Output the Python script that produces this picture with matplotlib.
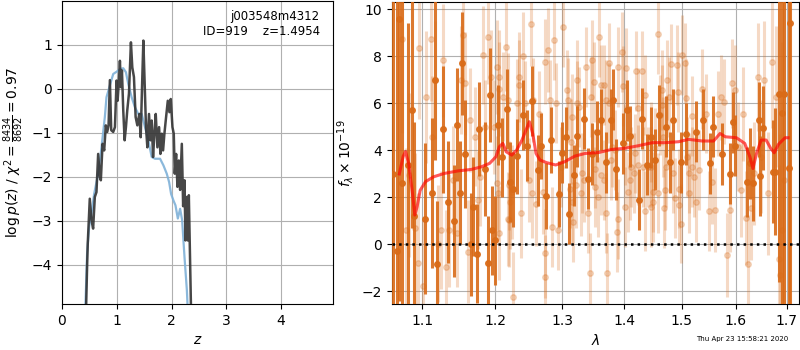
import matplotlib
matplotlib.use("Agg")
import matplotlib.pyplot as plt
from matplotlib.ticker import NullLocator

# --- p(z) panel ---
z_chi = [0.42, 0.458, 0.47, 0.507, 0.538, 0.568, 0.599, 0.629, 0.66, 0.69, 0.709,
         0.74, 0.77, 0.80, 0.825, 0.85, 0.874, 0.898, 0.935, 0.966, 0.996, 1.015,
         1.039, 1.057, 1.075, 1.094, 1.118, 1.143, 1.167, 1.191, 1.222, 1.258,
         1.283, 1.313, 1.344, 1.375, 1.411, 1.436, 1.466, 1.485, 1.509, 1.533,
         1.558, 1.588, 1.613, 1.637, 1.662, 1.686, 1.711, 1.741, 1.772, 1.796,
         1.821, 1.845, 1.869, 1.900, 1.931, 1.961, 1.985, 2.016, 2.04, 2.058,
         2.083, 2.107, 2.132, 2.156, 2.187, 2.211, 2.236, 2.254, 2.273, 2.297,
         2.315, 2.34, 2.37]
logp_chi = [-6.0, -4.05, -3.52, -2.5, -2.99, -3.18, -2.46, -2.35, -1.48, -2.0, -2.08,
            -1.25, -1.4, -0.83, -0.98, -0.83, 0.2, -0.94, -0.98, -0.87, 0.19, -0.27,
            0.19, 0.64, 0.04, 0.42, -0.49, -1.17, -0.87, -0.49, -0.11, 1.06,
            0.49, 0.27, -0.64, -0.83, -0.57, -1.1, 0.27, 1.1, 0.11, -0.87,
            -1.33, -0.57, -1.17, -0.72, -1.55, -1.02, -0.57, -1.33, -0.87, -1.48,
            -1.02, -1.4, -1.02, -0.64, -0.27, -0.53, -0.23, -0.87, -1.02, -1.93,
            -1.48, -2.23, -1.63, -2.3, -1.25, -2.67, -2.08, -3.45, -2.46, -3.45,
            -2.42, -4.05, -6.0]

z_pz = [0.40, 0.458, 0.495, 0.538, 0.587, 0.66, 0.721, 0.782, 0.812, 0.874, 0.935,
        0.996, 1.057, 1.118, 1.167, 1.21, 1.271, 1.332, 1.393, 1.454, 1.515,
        1.576, 1.637, 1.698, 1.790, 1.851, 1.912, 1.955, 1.991, 2.034, 2.071,
        2.114, 2.156, 2.193, 2.236, 2.279, 2.33]
logp_pz = [-6.0, -3.75, -3.14, -2.84, -2.39, -1.93, -1.33, -0.64, -0.19, 0.08, 0.34,
           0.39, 0.45, 0.47, 0.38, 0.11, -0.19, -0.42, -0.57, -0.57, -0.87,
           -1.17, -1.55, -1.59, -1.59, -1.74, -1.93, -2.12, -2.39, -2.54, -2.65,
           -2.95, -2.73, -2.99, -3.83, -4.58, -6.0]

# --- spectrum panel ---
dark_wave = [1.062, 1.067, 1.070, 1.073, 1.081, 1.086, 1.089, 1.104, 1.112, 1.116,
             1.119, 1.127, 1.134, 1.142, 1.147, 1.150, 1.153, 1.157, 1.166, 1.169,
             1.174, 1.177, 1.185, 1.189, 1.192, 1.196, 1.200, 1.204, 1.210, 1.217,
             1.222, 1.226, 1.232, 1.241, 1.246, 1.254, 1.263, 1.267, 1.275, 1.282,
             1.295, 1.300, 1.306, 1.311, 1.319, 1.324, 1.335, 1.341, 1.347, 1.356,
             1.362, 1.370, 1.378, 1.382, 1.386, 1.398, 1.404, 1.410, 1.425, 1.431,
             1.439, 1.446, 1.452, 1.460, 1.472, 1.479, 1.485, 1.498, 1.507, 1.526,
             1.539, 1.551, 1.556, 1.573, 1.589, 1.595, 1.599, 1.621, 1.628, 1.633,
             1.644, 1.646, 1.653, 1.672, 1.677, 1.685, 1.690, 1.694, 1.704, 1.707]
dark_flux = [3.0, -0.3, 9.6, 2.6, 3.4, 5.7, 1.2, 1.1, 2.2, 7.0,
             -0.85, 4.9, 1.8, 1.0, 5.1, 2.2, 7.7, 3.85, 0.0, 1.6,
             -0.4, 4.9, 3.2, -0.8, 6.35, 0.6, 0.18, 5.1, 3.7, 5.75,
             2.65, 2.35, 3.75, 5.5, 4.2, 6.1, 3.15, 4.2, 2.05, 4.45,
             2.15, 3.9, 4.55, 1.3, 2.95, 4.6, 5.35, 2.8, 3.85, 4.8,
             5.3, 3.5, 5.3, 6.15, 3.2, 4.3, 5.7, 4.6, 1.9, 5.35,
             3.4, 4.55, 3.6, 5.5, 5.0, 3.5, 5.3, 3.5, 4.7, 4.8,
             5.3, 3.45, 5.0, 3.85, 3.0, 5.2, 4.2, 2.65, 3.45, 2.6,
             5.3, 2.9, 4.95, 3.1, 3.1, 6.4, 5.6, 6.4, 3.25, 9.4]
dark_err = [20, 15, 12, 10, 6, 5, 4, 3.2, 3.2, 3.4,
            2.7, 2.7, 2.6, 2.4, 2.4, 2.2, 2.2, 2.3, 2.2, 2.1,
            2.1, 2.0, 2.0, 2.0, 2.0, 1.9, 1.9, 1.7, 1.7, 1.7,
            1.7, 1.6, 1.6, 1.5, 1.5, 1.5, 1.5, 1.4, 1.4, 1.4,
            1.4, 1.3, 1.3, 1.3, 1.3, 1.3, 1.3, 1.3, 1.3, 1.3,
            1.3, 1.3, 1.3, 1.3, 1.3, 1.3, 1.3, 1.3, 1.3, 1.3,
            1.3, 1.3, 1.3, 1.3, 1.3, 1.3, 1.3, 1.3, 1.3, 1.3,
            1.3, 1.3, 1.3, 1.3, 1.3, 1.3, 1.3, 1.5, 1.5, 1.6,
            1.6, 1.7, 1.8, 2.2, 2.7, 8, 10, 12, 20, 20]

light_wave = [1.074, 1.078, 1.083, 1.090, 1.094, 1.096, 1.101, 1.105, 1.111, 1.113,
              1.116, 1.120, 1.125, 1.128, 1.131, 1.136, 1.141, 1.147, 1.152, 1.155,
              1.157, 1.161, 1.165, 1.171, 1.175, 1.179, 1.182, 1.186, 1.189, 1.194,
              1.198, 1.202, 1.206, 1.211, 1.216, 1.220, 1.226, 1.231, 1.235, 1.240,
              1.244, 1.249, 1.253, 1.256, 1.260, 1.265, 1.270, 1.273, 1.274, 1.278,
              1.281, 1.285, 1.288, 1.291, 1.294, 1.298, 1.302, 1.308, 1.312, 1.317,
              1.323, 1.327, 1.331, 1.337, 1.341, 1.344, 1.347, 1.352, 1.358, 1.362,
              1.366, 1.370, 1.375, 1.379, 1.388, 1.390, 1.397, 1.401, 1.406, 1.412,
              1.416, 1.420, 1.424, 1.430, 1.436, 1.441, 1.445, 1.449, 1.452, 1.458,
              1.462, 1.465, 1.468, 1.472, 1.477, 1.481, 1.485, 1.488, 1.494, 1.499,
              1.500, 1.505, 1.509, 1.513, 1.518, 1.525, 1.531, 1.537, 1.544, 1.549,
              1.555, 1.561, 1.567, 1.572, 1.577, 1.584, 1.588, 1.592, 1.598, 1.604,
              1.610, 1.614, 1.619, 1.624, 1.630, 1.636, 1.643, 1.649, 1.655, 1.662,
              1.671, 1.678, 1.684, 1.686, 1.690, 1.695]
light_flux = [8.72, 0.6, 2.95, 0.68, -0.8, 8.34, -1.77, 6.26, 8.72, 4.58,
              6.99, 0.04, 0.61, 7.84, -0.95, 0.61, 2.74, 0.47, 6.99, 8.91,
              6.85, -0.31, 5.29, 4.58, 1.89, 2.88, 8.06, 5.0, 8.84, 7.13,
              5.0, 7.56, 6.6, 6.28, 8.41, 2.52, -2.23, 6.0, 7.13, 8.01,
              6.0, 2.74, 9.38, 6.14, 1.74, 5.57, 2.24, -1.38, 7.77, 8.27,
              6.14, 0.75, 8.7, 6.0, 0.61, 3.3, 9.23, 6.57, 2.38, 0.96,
              6.99, 5.86, 3.02, 7.56, 1.32, -1.23, 7.84, 2.45, 8.84, 6.78,
              2.74, 6.14, 7.7, 4.16, 0.54, 7.56, 8.2, 1.6, 2.24, 3.3,
              3.02, 7.38, 5.79, 7.39, 1.43, 3.3, 4.37, 2.24, 4.09, 8.94,
              5.5, 6.57, 1.53, 3.3, 6.28, 7.67, 3.02, 1.96, 1.67, 0.89,
              8.06, 7.7, 3.73, 3.02, 5.46, 1.82, 3.16, 6.6, 5.57, 1.43,
              2.67, 1.46, 5.57, 6.26, 6.07, -0.45, 1.46, 6.85, 6.57, 4.16,
              2.31, 5.57, 1.11, -0.85, 1.53, 3.02, 7.13, 3.73, 6.99, 2.17,
              7.77, 6.28, -0.6, -1.3, 0.61, 2.74]
light_err = [4.0, 3.5, 3.5, 3.2, 3.0, 3.0, 2.8, 2.8, 2.6, 2.6,
             2.5, 2.5, 2.5, 2.4, 2.4, 2.4, 2.3, 2.3, 2.3, 2.2,
             2.2, 2.2, 2.2, 2.1, 2.1, 2.1, 2.1, 2.0, 2.0, 2.0,
             2.0, 2.0, 2.0, 1.9, 1.9, 1.9, 1.9, 1.9, 1.9, 1.9,
             1.8, 1.8, 1.8, 1.8, 1.8, 1.8, 1.8, 1.8, 1.8, 1.8,
             1.7, 1.7, 1.7, 1.7, 1.7, 1.7, 1.7, 1.7, 1.7, 1.7,
             1.7, 1.7, 1.7, 1.7, 1.7, 1.7, 1.7, 1.7, 1.7, 1.7,
             1.7, 1.7, 1.7, 1.7, 1.7, 1.7, 1.7, 1.7, 1.7, 1.7,
             1.7, 1.7, 1.7, 1.7, 1.7, 1.7, 1.7, 1.7, 1.7, 1.7,
             1.7, 1.7, 1.7, 1.7, 1.7, 1.7, 1.7, 1.7, 1.7, 1.7,
             1.7, 1.7, 1.7, 1.7, 1.7, 1.7, 1.7, 1.7, 1.7, 1.7,
             1.8, 1.8, 1.8, 1.8, 1.8, 1.8, 1.8, 1.9, 1.9, 1.9,
             2.0, 2.0, 2.0, 2.1, 2.2, 2.2, 2.3, 2.4, 2.5, 2.6,
             2.8, 3.0, 4.0, 6.0, 8.0, 10.0]

light2_wave = [1.351, 1.366, 1.375, 1.352, 1.357, 1.361, 1.370, 1.372, 1.389, 1.398,
               1.403, 1.409, 1.435, 1.446, 1.464, 1.467, 1.473, 1.491, 1.493, 1.495,
               1.507, 1.512, 1.518, 1.521, 1.470, 1.458, 1.446, 1.432, 1.401, 1.418,
               1.423, 1.384, 1.378, 1.449, 1.205, 1.309, 1.316, 1.330, 1.235, 1.218,
               1.220, 1.237, 1.222, 1.225, 1.254, 1.203, 1.204, 1.218, 1.205, 1.274,
               1.316, 1.314, 1.324, 1.345, 1.335, 1.321]
light2_flux = [6.92, 6.78, 6.0, 3.23, 2.03, 2.95, 1.32, -1.23, 1.1, 6.75,
               7.49, 2.74, 6.35, 1.6, 5.93, 4.58, 6.99, 7.63, 6.49, 2.38,
               6.21, 2.17, 3.3, 2.88, 2.31, 2.17, 3.3, 3.3, 4.23, 3.87,
               3.37, 4.01, 3.59, 1.81, 7.13, 6.14, 1.81, 2.17, 6.78, 6.14,
               1.03, 1.32, 1.81, 2.24, 2.17, 2.6, 2.17, 1.1, 0.47, -0.38,
               5.43, 4.37, 6.0, 6.28, 2.74, 2.52]
light2_err = [1.7, 1.7, 1.7, 1.7, 1.7, 1.7, 1.7, 1.7, 1.7, 1.7,
              1.7, 1.7, 1.7, 1.7, 1.7, 1.7, 1.7, 1.7, 1.7, 1.7,
              1.7, 1.7, 1.7, 1.7, 1.7, 1.7, 1.7, 1.7, 1.7, 1.7,
              1.7, 1.7, 1.7, 1.7, 2.0, 1.8, 1.8, 1.8, 1.9, 2.0,
              2.0, 1.9, 2.0, 2.0, 1.9, 2.0, 2.0, 2.0, 2.0, 1.9,
              1.8, 1.8, 1.8, 1.7, 1.8, 1.8]

model_wave = [1.070, 1.075, 1.078, 1.082, 1.087, 1.090, 1.093, 1.097, 1.104, 1.115,
              1.129, 1.148, 1.166, 1.180, 1.192, 1.201, 1.206, 1.211, 1.216, 1.224,
              1.231, 1.239, 1.245, 1.250, 1.255, 1.260, 1.266, 1.276, 1.290, 1.304,
              1.320, 1.336, 1.358, 1.379, 1.401, 1.424, 1.448, 1.471, 1.494, 1.512,
              1.537, 1.558, 1.570, 1.580, 1.601, 1.617, 1.627, 1.633, 1.640, 1.649,
              1.659, 1.668, 1.675, 1.684, 1.697, 1.703]
model_flux = [3.0, 3.75, 3.95, 3.45, 2.17, 1.25, 1.6, 2.3, 2.67, 2.88,
              3.02, 3.13, 3.19, 3.3, 3.45, 3.73, 4.16, 4.3, 3.94, 3.8,
              4.01, 4.44, 4.87, 5.22, 4.72, 3.87, 3.59, 3.48, 3.38, 3.52,
              3.76, 3.87, 3.91, 4.04, 4.09, 4.2, 4.33, 4.33, 4.37, 4.47,
              4.4, 4.4, 4.72, 4.58, 4.54, 4.3, 3.73, 3.23, 3.87, 4.44,
              4.44, 4.09, 3.9, 4.27, 4.54, 4.54]

wave_ticks = [1.1, 1.2, 1.3, 1.4, 1.5, 1.6, 1.7]
wave_labels = ['1.1', '1.2', '1.3', '1.4', '1.5', '1.6', '1.7']

orange = '#d96b18'

fig = plt.figure(figsize=(8, 3.5), dpi=100)

ax1 = fig.add_axes([0.0775, 0.131, 0.339, 0.866])
ax1.plot(z_pz, logp_pz, color='#7fb1d8', lw=1.6, alpha=0.9, zorder=2)
ax1.plot(z_chi, logp_chi, color='#333333', lw=1.8, alpha=0.9, zorder=3)
ax1.set_xlim(0, 4.95)
ax1.set_ylim(-4.9, 2.0)
ax1.set_xticks([0, 1, 2, 3, 4])
ax1.set_yticks([-4, -3, -2, -1, 0, 1])
ax1.grid(True)
ax1.set_xlabel(r'$z$')
ax1.set_ylabel(r'$\log p(z)$ / $\chi^2=\frac{8434}{8692}=0.97$')
ax1.text(0.95, 0.97, 'j003548m4312\nID=919    z=1.4954', transform=ax1.transAxes,
         ha='right', va='top', fontsize=8.5)

ax2 = fig.add_axes([0.4896, 0.131, 0.5095, 0.863])
for w, f, e in [(light_wave, light_flux, light_err), (light2_wave, light2_flux, light2_err)]:
    ax2.errorbar(w, f, yerr=e, marker='o', ms=4, ls='none',
                 color=orange, elinewidth=2.2, alpha=0.25, zorder=2)
ax2.errorbar(dark_wave, dark_flux, yerr=dark_err, marker='o', ms=4, ls='none',
             color=orange, elinewidth=2.2, alpha=0.9, zorder=3)
ax2.plot(model_wave, model_flux, color='red', lw=2.2, alpha=0.65, zorder=4)
ax2.axhline(0, color='k', ls=':', lw=1.8, zorder=5)
ax2.set_xscale('log')
ax2.set_xlim(1.0603, 1.726)
ax2.set_ylim(-2.54, 10.31)
ax2.set_xticks(wave_ticks)
ax2.set_xticklabels(wave_labels)
ax2.xaxis.set_minor_locator(NullLocator())
ax2.set_yticks([-2, 0, 2, 4, 6, 8, 10])
ax2.grid(True)
ax2.set_xlabel(r'$\lambda$')
ax2.set_ylabel(r'$f_\lambda\times10^{-19}$')

fig.text(0.9275, 0.03, 'Thu Apr 23 15:58:21 2020', ha='center', va='center', fontsize=5)

fig.savefig('out.png', dpi=100)
